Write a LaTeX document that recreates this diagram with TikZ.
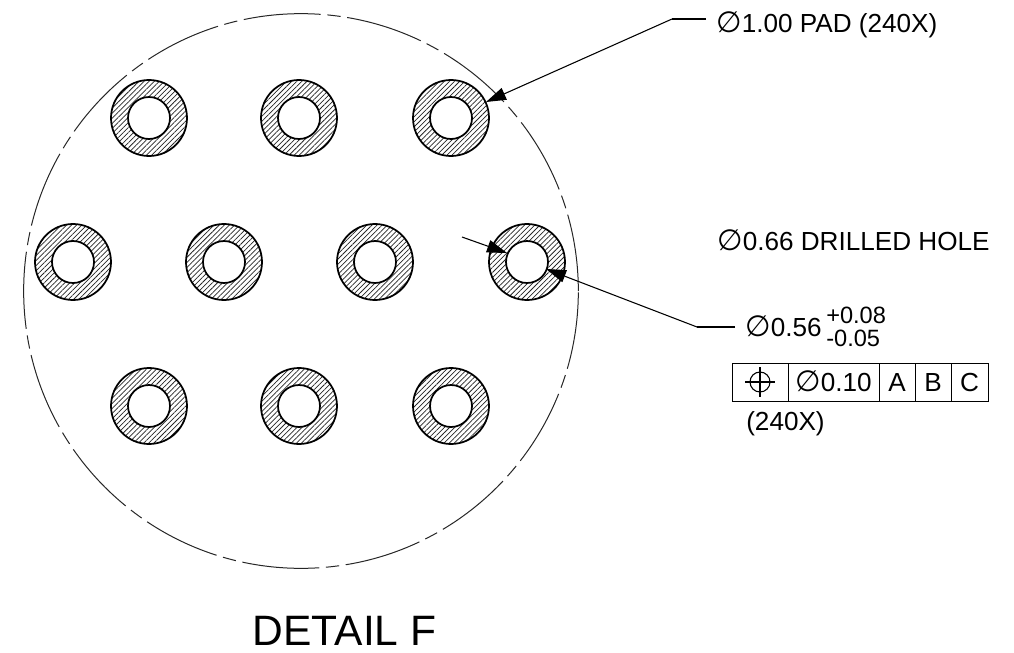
\documentclass[tikz,border=0pt]{standalone}
\usepackage{graphicx}
\usepackage{fontspec}
\setmainfont{Liberation Sans}
\newfontfamily\symf{DejaVu Sans}
\usetikzlibrary{arrows.meta,patterns.meta}
\newcommand{\dia}{\scalebox{1.12}{\symf\char"2205}}
\tikzset{
 x=0.75pt,y=-0.75pt,
 pad/.style={circle,draw,line width=1.3pt,inner sep=0pt,minimum size=57pt,pattern={Lines[angle=45,distance=2.7pt,line width=0.55pt]},pattern color=black!85},
 hole/.style={circle,draw,line width=1.3pt,fill=white,inner sep=0pt,minimum size=31.5pt},
 lead/.style={line width=0.8pt,-{Triangle[length=15pt,width=9.5pt]}},
 plain/.style={line width=0.8pt},
 label/.style={inner sep=0pt,anchor=base west,font=\fontsize{19.6pt}{22pt}\selectfont},
 cell/.style={inner sep=0pt,draw,line width=0.7pt,minimum height=28.5pt,text height=14pt,text depth=0pt,font=\fontsize{19.6pt}{22pt}\selectfont},
 tol/.style={inner sep=0pt,anchor=base west,font=\fontsize{17.7pt}{20pt}\selectfont},
}
\begin{document}
\begin{tikzpicture}
\useasboundingbox (0,0) rectangle (1014,653);
\node[draw,circle,inner sep=0pt,minimum size=416pt,line width=0.75pt,dash pattern=on 58pt off 5pt on 10pt off 5pt,draw=black!85] (detail) at (301,291) {};
\foreach \n/\px/\py in {a/149/118,b/299/118,c/451/118,d/73/262,e/224/262,f/375/262,g/527/262,h/149/406,i/299/406,j/451/406}{
  \node[pad] (pad\n) at (\px,\py) {};
  \node[hole] (hole\n) at (\px,\py) {};
}
\coordinate (k1) at (672,19);
\coordinate (e1) at (706,19);
\coordinate (t1) at (486,102);
\draw[plain] (e1) -- (k1);
\draw[lead] (k1) -- (t1);
\coordinate (f2) at (462,237);
\coordinate (t2) at (507,253);
\draw[lead] (f2) -- (t2);
\coordinate (k3) at (697,327);
\coordinate (e3) at (735,327);
\coordinate (t3) at (546,269);
\draw[plain] (e3) -- (k3);
\draw[lead] (k3) -- (t3);
\node[label] (padtxt) at (716,32) {\dia1.00 PAD (240X)};
\node[label] (holetxt) at (717,250) {\dia0.66 DRILLED HOLE};
\node[label] (dimtxt) at (745,336) {\dia0.56};
\node[tol] (tolup) at (826,323) {+0.08};
\node[tol] (tollow) at (826,346) {-0.05};
\node[cell,minimum width=42pt] (fc1) at (760,382) {};
\node[cell,minimum width=68.25pt] (fc2) at (833.5,382) {\dia0.10};
\node[cell,minimum width=27pt] (fc3) at (897,382) {A};
\node[cell,minimum width=27pt] (fc4) at (933,382) {B};
\node[cell,minimum width=27.75pt] (fc5) at (969.5,382) {C};
\node[draw,circle,inner sep=0pt,minimum size=15pt,line width=0.8pt] (pos) at (760,382) {};
\coordinate (pl) at (745,382); \coordinate (pr) at (775,382);
\coordinate (pt) at (760,367); \coordinate (pb) at (760,397);
\draw[plain] (pl) -- (pr);
\draw[plain] (pt) -- (pb);
\node[label] (qty) at (746,430) {(240X)};
\node[inner sep=0pt,font=\fontsize{31.9pt}{36pt}\selectfont] (title) at (344.5,631) {DETAIL F};
\end{tikzpicture}
\end{document}
